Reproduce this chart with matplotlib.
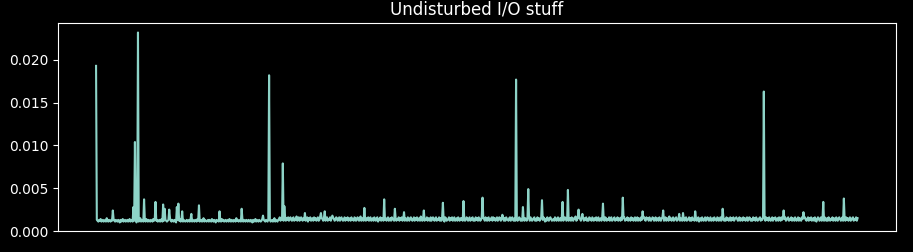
import numpy as np
import matplotlib
matplotlib.use('Agg')
import matplotlib.pyplot as plt

# baseline samples in units of 1e-4 s; the first ~240 are the quieter stretch
base_e4 = [
    11, 13, 12, 11, 13, 12, 14, 11, 12, 13, 11, 12, 13, 11, 15, 12, 11, 13, 12, 11,
    13, 12, 11, 14, 12, 11, 13, 12, 11, 13, 12, 10, 13, 11, 12, 14, 11, 12, 13, 11,
    12, 13, 11, 12, 14, 11, 13, 12, 11, 13, 12, 11, 13, 10, 12, 13, 11, 12, 15, 11,
    13, 12, 11, 12, 13, 11, 14, 12, 11, 13, 12, 11, 13, 12, 11, 14, 12, 13, 11, 12,
    13, 11, 12, 13, 11, 12, 14, 11, 13, 12, 11, 13, 12, 11, 12, 13, 11, 15, 12, 11,
    13, 12, 11, 13, 12, 10, 12, 13, 11, 12, 14, 11, 13, 12, 11, 13, 12, 11, 12, 13,
    11, 12, 13, 11, 14, 12, 11, 13, 12, 11, 13, 12, 11, 14, 12, 13, 11, 12, 13, 11,
    12, 15, 11, 13, 12, 11, 12, 13, 11, 13, 12, 11, 14, 12, 11, 13, 12, 10, 13, 12,
    12, 11, 13, 12, 11, 14, 12, 13, 11, 12, 13, 11, 12, 13, 11, 14, 12, 11, 13, 12,
    11, 13, 12, 11, 15, 12, 13, 11, 12, 13, 11, 12, 14, 11, 13, 12, 11, 13, 12, 11,
    13, 12, 11, 13, 12, 10, 13, 11, 12, 14, 11, 13, 12, 11, 13, 12, 11, 12, 14, 11,
    13, 12, 11, 13, 12, 11, 14, 12, 13, 11, 12, 13, 11, 12, 15, 11, 13, 12, 11, 13,
    14, 16, 12, 15, 13, 16, 12, 14, 17, 12, 15, 13, 16, 12, 14, 16, 13, 12, 15, 16,
    12, 14, 13, 17, 12, 15, 16, 12, 13, 16, 14, 12, 15, 13, 16, 12, 14, 16, 11, 15,
    13, 16, 12, 14, 15, 12, 16, 13, 15, 12, 14, 16, 12, 13, 17, 12, 15, 14, 12, 16,
    13, 12, 15, 16, 12, 14, 13, 16, 12, 15, 12, 16, 14, 12, 13, 16, 15, 12, 14, 16,
    12, 15, 16, 13, 12, 14, 16, 12, 15, 13, 16, 12, 14, 15, 12, 16, 13, 14, 12, 16,
    15, 12, 13, 16, 14, 12, 15, 17, 12, 13, 15, 12, 16, 14, 12, 15, 13, 16, 12, 14,
    16, 12, 13, 15, 12, 16, 14, 12, 15, 16, 11, 14, 13, 16, 12, 15, 14, 12, 16, 13,
    15, 12, 14, 16, 12, 13, 15, 12, 16, 14, 13, 12, 16, 15, 12, 14, 13, 16, 12, 15,
    13, 16, 12, 14, 16, 12, 15, 13, 12, 16, 14, 12, 15, 16, 13, 12, 14, 16, 12, 15,
    13, 16, 12, 14, 15, 12, 17, 13, 12, 15, 16, 12, 14, 13, 16, 12, 15, 14, 12, 16,
    12, 14, 16, 13, 12, 15, 16, 12, 14, 13, 16, 12, 15, 12, 16, 14, 13, 11, 16, 15,
    12, 13, 14, 16, 12, 15, 13, 16, 12, 14, 16, 12, 13, 15, 12, 16, 14, 12, 15, 13,
    15, 12, 16, 14, 12, 13, 16, 15, 12, 14, 16, 12, 13, 15, 16, 12, 14, 12, 16, 13,
    15, 12, 16, 14, 12, 13, 17, 12, 15, 14, 12, 16, 13, 12, 15, 16, 12, 14, 13, 16,
    12, 16, 13, 15, 12, 14, 16, 12, 13, 16, 15, 12, 14, 13, 16, 12, 15, 12, 16, 14,
    13, 12, 15, 16, 12, 14, 16, 13, 12, 15, 12, 16, 14, 12, 13, 16, 15, 12, 14, 12,
    16, 13, 12, 15, 14, 12, 16, 13, 15, 12, 16, 14, 12, 13, 15, 16, 12, 14, 12, 16,
    13, 15, 12, 14, 16, 12, 13, 16, 15, 11, 14, 12, 16, 13, 12, 15, 16, 14, 12, 13,
    14, 12, 16, 15, 12, 13, 16, 12, 14, 15, 12, 16, 13, 12, 14, 16, 15, 12, 13, 16,
    12, 14, 15, 12, 16, 13, 12, 15, 14, 17, 12, 13, 16, 12, 15, 14, 12, 16, 13, 15,
    12, 15, 13, 16, 12, 14, 12, 16, 15, 13, 12, 16, 14, 12, 15, 13, 16, 12, 14, 16,
    12, 13, 15, 12, 16, 14, 13, 12, 16, 15, 12, 14, 13, 16, 12, 15, 16, 12, 13, 14,
    16, 12, 14, 13, 16, 12, 15, 14, 12, 16, 13, 12, 15, 16, 12, 14, 13, 16, 12, 15,
    14, 12, 16, 13, 15, 12, 14, 16, 12, 13, 16, 12, 15, 14, 12, 16, 13, 12, 15, 16,
    13, 12, 16, 14, 15, 12, 16, 13, 12, 14, 16, 15, 12, 13, 16, 12, 14, 15, 12, 16,
    13, 12, 15, 16, 14, 12, 13, 16, 12, 15, 14, 12, 17, 13, 15, 12, 14, 16, 12, 13,
    15, 16, 12, 13, 14, 16, 12, 15, 13, 12, 16, 14, 12, 15, 16, 12, 13, 14, 16, 12,
    15, 12, 16, 13, 14, 12, 16, 15, 12, 13, 16, 11, 14, 15, 12, 16, 13, 12, 14, 16,
    12, 13, 16, 15, 12, 14, 16, 12, 13, 15, 12, 16, 14, 13, 12, 16, 15, 12, 14, 16,
    12, 13, 15, 16, 12, 14, 12, 16, 13, 15, 12, 14, 16, 12, 15, 13, 16, 12, 14, 15,
    16, 14, 12, 13, 16, 12, 15, 14, 12, 16, 13, 15, 12, 14, 16, 12, 13, 16, 15, 12,
    14, 12, 16, 13, 15, 12, 16, 14, 12, 13, 15, 16, 12, 14, 13, 17, 12, 15, 12, 16,
    13, 15, 12, 16, 14, 12, 13, 16, 12, 15, 14, 16, 12, 13, 15, 12, 16, 14, 12, 16,
    13, 15, 12, 14, 16, 12, 13, 15, 16, 12, 14, 13, 16, 12, 15, 14, 12, 16, 13, 12,
    14, 16, 12, 15, 13, 12, 16, 14, 12, 15, 16, 13, 12, 14, 16, 12, 15, 13, 16, 12,
    14, 15, 12, 16, 13, 11, 14, 16, 15, 12, 13, 16, 12, 14, 15, 12, 16, 13, 12, 15,
    12, 16, 15, 12, 14, 13, 16, 12, 15, 14, 12, 16, 13, 12, 15, 16, 14, 12, 13, 16,
    12, 15, 14, 12, 16, 13, 15, 12, 14, 16, 12, 13, 15, 16, 12, 14, 13, 16, 12, 15,
]

# spikes: sample index and value (1e-4 s)
spike_idx = [0, 22, 49, 51, 55, 63, 78, 88, 90, 96, 106, 108, 113, 125, 135, 162,
             191, 219, 227, 245, 247, 274, 295, 300, 310, 352, 378, 392, 404, 430,
             455, 482, 507, 533, 551, 560, 567, 585, 612, 619, 633, 638, 665, 691,
             717, 744, 765, 770, 786, 822, 876, 902, 928, 954, 981]
spike_e4 = [193, 24, 28, 104, 232, 37, 34, 31, 26, 25, 28, 32, 23, 20, 30, 23,
            26, 18, 182, 79, 29, 21, 21, 23, 18, 27, 37, 26, 22, 24,
            33, 35, 39, 19, 177, 28, 49, 36, 34, 48, 25, 20, 32, 39,
            23, 24, 20, 21, 23, 26, 163, 24, 22, 34, 38]

y = np.array(base_e4, dtype=float)
y[spike_idx] = spike_e4
y = y * 1e-4

plt.style.use('dark_background')
fig = plt.figure(figsize=(9.13, 2.52), dpi=100)
ax = fig.add_subplot(111)
fig.subplots_adjust(left=0.0635, right=0.981, bottom=0.0833, top=0.9087)

ax.plot(np.arange(len(y)), y, color='#8dd3c7', lw=1.5)
ax.set_ylim(bottom=0)
ax.set_xticks([])
ax.set_title('Undisturbed I/O stuff')

plt.savefig('out.png', dpi=100)
